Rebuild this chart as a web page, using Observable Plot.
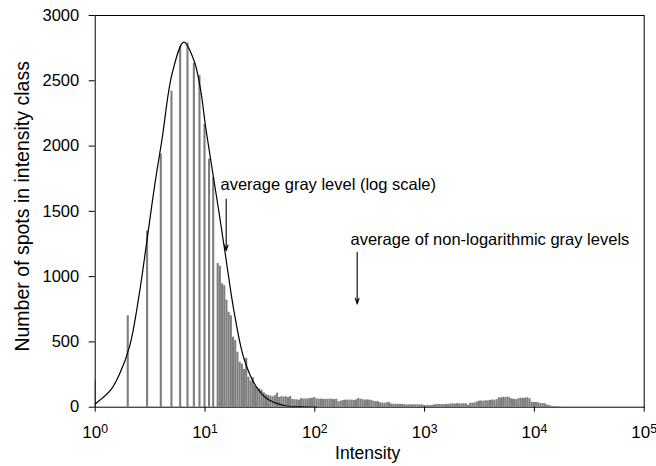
<!DOCTYPE html>
<html><head><meta charset="utf-8">
<script src="https://cdn.jsdelivr.net/npm/d3@7"></script>
<script src="https://cdn.jsdelivr.net/npm/@observablehq/plot@0.6"></script>
<style>body{margin:0;background:#fff} svg{display:block}</style>
</head><body><div id="chart"></div>
<script>
// Discrete integer intensities (low end of the histogram)
const intValues = [1, 2, 3, 4, 5, 6, 7, 8, 9, 10, 11, 12];
const intCounts = [200, 700, 1350, 1940, 2420, 2760, 2790, 2635, 2540, 2165, 1900, 1760];

// Log-spaced classes from log10 = 1.12 in steps of 0.02
const tailStartLog = 1.12;
const tailStepLog = 0.02;
const tailCounts = [
  1100, 1080, 945, 930, 820, 727, 700, 536, 510, 421,
  344, 330, 290, 375, 230, 200, 225, 160, 150, 140,
  130, 110, 95, 90, 85, 80, 88, 107, 75, 80,
  78, 80, 74, 82, 60, 58, 56, 54, 66, 62,
  64, 63, 66, 68, 74, 63, 61, 62, 60, 61,
  59, 62, 60, 58, 60, 41, 46, 52, 54, 53,
  55, 54, 52, 56, 66, 62, 57, 55, 56, 54,
  52, 45, 43, 42, 33, 31, 30, 34, 36, 24,
  23, 22, 22, 21, 22, 19, 18, 18, 17, 19,
  18, 18, 17, 18, 13, 12, 14, 13, 15, 19,
  20, 21, 20, 19, 21, 22, 25, 26, 24, 27,
  26, 25, 27, 26, 15, 30, 31, 33, 40, 46,
  48, 45, 50, 48, 52, 55, 53, 58, 72, 70,
  76, 74, 77, 70, 62, 60, 58, 66, 69, 68,
  70, 72, 65, 38, 36, 37, 33, 28, 28, 26,
  15, 14, 6, 5, 4, 3, 2
];

// Fitted curve (log10 intensity, count)
const curveLog = [0, 0.14, 0.22, 0.315, 0.40, 0.48, 0.54, 0.61, 0.70, 0.807, 0.90, 0.96, 1.005, 1.06, 1.126, 1.187, 1.263, 1.354, 1.46, 1.566, 1.72, 1.87, 2.02];
const curveCounts = [25, 130, 250, 472, 860, 1330, 1690, 2060, 2553, 2796, 2655, 2430, 2150, 1850, 1500, 1160, 740, 375, 166, 64, 13, 4, 0];

const xTicks = [1, 10, 100, 1000, 10000, 100000];
const yTicks = [0, 500, 1000, 1500, 2000, 2500, 3000];

const notes = ["average gray level (log scale)", "average of non-logarithmic gray levels"];
const noteX = [13.84, 211.4];
const noteY = [1704, 1285];
const arrowX = [15.6, 243.2];
const arrowTop = [1595, 1186];
const arrowTip = [1199, 791];

const xLabel = "Intensity";
const yLabel = "Number of spots in intensity class";

const bars = [
  ...intValues.map((v, i) => ({c: Math.log10(v), n: intCounts[i]})),
  ...tailCounts.map((n, i) => ({c: tailStartLog + i * tailStepLog, n}))
];
const curve = curveLog.map((l, i) => ({x: 10 ** l, y: curveCounts[i]}));
const noteData = notes.map((t, i) => ({t, x: noteX[i], y: noteY[i]}));
const arrowData = arrowX.map((x, i) => ({x, y1: arrowTop[i], y2: arrowTip[i]}));

const half = 0.0095;
const chart = Plot.plot({
  width: 656,
  height: 466,
  marginLeft: 94.7,
  marginRight: 12.3,
  marginTop: 15,
  marginBottom: 59.3,
  style: {fontFamily: "'Liberation Sans', Arial, Helvetica, sans-serif", background: "white", color: "black"},
  x: {type: "log", domain: [1, 100000]},
  y: {domain: [0, 3000]},
  marks: [
    Plot.rect(bars, {x1: d => 10 ** (d.c - half), x2: d => 10 ** (d.c + half), y1: 0, y2: "n", fill: "#7d7d7d", clip: true}),
    Plot.line(curve, {x: "x", y: "y", curve: "catmull-rom", stroke: "black", strokeWidth: 1.2, clip: true}),
    Plot.arrow(arrowData, {x1: "x", x2: "x", y1: "y1", y2: "y2", stroke: "black", strokeWidth: 1.1, headLength: 8, headAngle: 36}),
    Plot.text(noteData, {x: "x", y: "y", text: "t", textAnchor: "start", lineAnchor: "middle", fontSize: 16.5, fill: "black"}),
    Plot.frame({stroke: "black", strokeWidth: 1}),
    Plot.axisY({ticks: yTicks, tickSize: 6, tickPadding: 10, fontSize: 16.5, label: null, tickFormat: d => String(d)}),
    Plot.axisX({ticks: xTicks, tickSize: 5, tickPadding: 14, fontSize: 17, label: null, tickFormat: d => "10^" + Math.round(Math.log10(d))}),
    Plot.text([xLabel], {frameAnchor: "bottom", textAnchor: "middle", lineAnchor: "middle", dy: 46, dx: -2, fontSize: 17.5, fill: "black"}),
    Plot.text([yLabel], {frameAnchor: "left", textAnchor: "middle", lineAnchor: "middle", rotate: -90, dx: -72, dy: -5, fontSize: 19.5, fill: "black"})
  ]
});

chart.querySelectorAll('g[aria-label="x-axis tick label"] text').forEach(t => {
  const parts = t.textContent.split("^");
  if (parts.length !== 2) return;
  t.textContent = parts[0];
  const ts = document.createElementNS("http://www.w3.org/2000/svg", "tspan");
  ts.setAttribute("dy", "-0.45em");
  ts.setAttribute("font-size", "0.72em");
  ts.textContent = parts[1];
  t.appendChild(ts);
});

document.getElementById("chart").appendChild(chart);
</script>
</body></html>
